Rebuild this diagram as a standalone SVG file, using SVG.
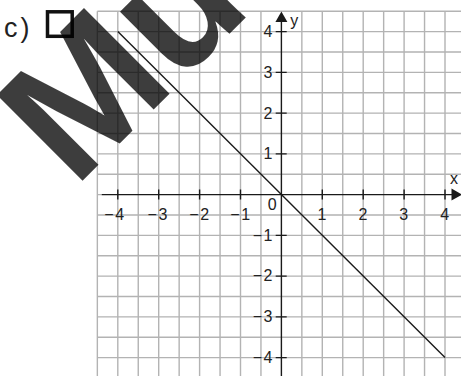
<svg xmlns="http://www.w3.org/2000/svg" width="461" height="376" viewBox="0 0 461 376">
<style>
.grid{stroke:#b3b3b3;stroke-width:1.4;fill:none}
.ax{stroke:#1a1a1a;stroke-width:1.4;fill:none}
.head{fill:#1a1a1a}
.fn{stroke:#1a1a1a;stroke-width:1.4;fill:none}
.lbl{font-family:"Liberation Sans",Arial,sans-serif;font-size:16px;fill:#222}
.mid{text-anchor:middle}
.end{text-anchor:end}
.neg{letter-spacing:1.5px}
.wm{font-family:"Liberation Sans",Arial,sans-serif;font-weight:bold;font-size:176px;fill:#000;fill-opacity:0.76}
</style>
<rect width="461" height="376" fill="#fff"/>
<g id="grid" class="grid">
<path d="M97.35 11.2V376M117.8 11.2V376M138.25 11.2V376M158.7 11.2V376M179.15 11.2V376M199.6 11.2V376M220.05 11.2V376M240.5 11.2V376M260.95 11.2V376M301.85 11.2V376M322.3 11.2V376M342.75 11.2V376M363.2 11.2V376M383.65 11.2V376M404.1 11.2V376M424.55 11.2V376M445 11.2V376"/>
<path d="M97.35 11.2H461M97.35 31.6H461M97.35 52H461M97.35 72.4H461M97.35 92.7H461M97.35 113.1H461M97.35 133.5H461M97.35 153.9H461M97.35 174.2H461M97.35 194.6H101.7M97.35 215H461M97.35 235.4H461M97.35 255.8H461M97.35 276.1H461M97.35 296.5H461M97.35 316.9H461M97.35 337.3H461M97.35 357.6H461"/>
</g>
<g id="connectors">
<path id="x-axis" class="ax" d="M101.7 194.6H452"/>
<polygon class="head" points="462,194.6 451.5,188.6 451.5,200.6"/>
<path id="y-axis" class="ax" d="M281.4 376V21"/>
<polygon class="head" points="281.4,11.5 275.4,22 287.4,22"/>
<path id="ticks" class="ax" d="M117.8 189.6v10M158.7 189.6v10M199.6 189.6v10M240.5 189.6v10M322.3 189.6v10M363.2 189.6v10M404.1 189.6v10M445 189.6v10M275.7 31.6h11M275.7 72.4h11M275.7 113.1h11M275.7 153.9h11M275.7 235.4h11M275.7 276.1h11M275.7 316.9h11M275.7 357.6h11"/>
<path id="line" class="fn" d="M117.8 31.6L445 357.6"/>
</g>
<g id="x-labels" class="lbl">
<text class="neg" x="104.3" y="220">−4</text>
<text class="neg" x="147.6" y="220">−3</text>
<text class="neg" x="189.3" y="220">−2</text>
<text class="neg" x="230.3" y="220">−1</text>
<text class="mid" x="322" y="220">1</text>
<text class="mid" x="363" y="220">2</text>
<text class="mid" x="403.8" y="220">3</text>
<text class="mid" x="444.7" y="220">4</text>
<text class="mid" x="272.2" y="210">0</text>
<text class="mid" x="454" y="183.5">x</text>
</g>
<g id="y-labels" class="lbl">
<text class="mid" x="294.2" y="25.5">y</text>
<text class="end" x="272.5" y="37.3">4</text>
<text class="end" x="272.5" y="77.8">3</text>
<text class="end" x="272.5" y="118.7">2</text>
<text class="end" x="272.5" y="159.3">1</text>
<text class="end neg" x="274" y="240.6">−1</text>
<text class="end neg" x="274" y="281.3">−2</text>
<text class="end neg" x="274" y="322.1">−3</text>
<text class="end neg" x="274" y="362.8">−4</text>
</g>
<g id="task-label">
<text x="4" y="36.5" style="font-family:'Liberation Sans',Arial,sans-serif;font-size:27px;fill:#222">c<tspan dx="3">)</tspan></text>
</g>
<g id="checkbox">
<rect x="47.5" y="11.8" width="24.7" height="24.5" fill="none" stroke="#111" stroke-width="3.5"/>
</g>
<g id="watermark">
<text class="wm" transform="translate(74.3,189) rotate(-45)">Mu</text>
</g>
</svg>
